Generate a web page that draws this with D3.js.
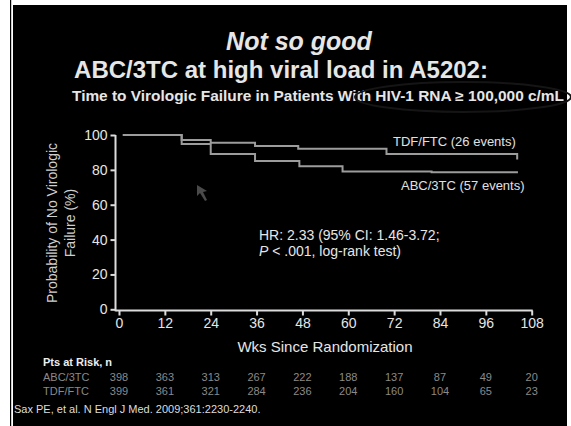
<!DOCTYPE html>
<html><head><meta charset="utf-8">
<script src="https://cdn.jsdelivr.net/npm/d3@7"></script>
<style>html,body{margin:0;padding:0;background:#fff;}svg{display:block;}</style>
</head><body>
<script>
// ---- data ----
const tdfWeeks = [1, 16.4, 24, 35.6, 46.9, 70, 104.2];
const tdfSurv  = [100, 97.1, 95.6, 93.7, 92.1, 89.1, 86.0];
const abcWeeks = [1, 16.4, 24, 35.6, 47.2, 58.5, 81.8, 104.4];
const abcSurv  = [100, 94.8, 89.1, 85.1, 82.1, 79.0, 78.6, 78.6];
const xTicks = [0, 12, 24, 36, 48, 60, 72, 84, 96, 108];
const yTicks = [0, 20, 40, 60, 80, 100];
const riskABC = [398, 363, 313, 267, 222, 188, 137, 87, 49, 20];
const riskTDF = [399, 361, 321, 284, 236, 204, 160, 104, 65, 23];
const seriesLabels = ["TDF/FTC (26 events)", "ABC/3TC (57 events)"];
const riskLabels = ["ABC/3TC", "TDF/FTC"];

const W = 571, H = 426;
const font = "'Liberation Sans', Arial, sans-serif";
const svg = d3.select("body").append("svg").attr("width", W).attr("height", H)
  .style("font-family", font);

// frame: white page with black slide
svg.append("rect").attr("width", W).attr("height", H).attr("fill", "#fff");
svg.append("rect").attr("x", 10).attr("y", 0).attr("width", 1.2).attr("height", H).attr("fill", "#000");
svg.append("rect").attr("x", 13).attr("y", 5).attr("width", 554).attr("height", H - 5).attr("fill", "#000");

// titles
svg.append("text").attr("x", 299).attr("y", 50).attr("text-anchor", "middle")
  .attr("fill", "#e6e6e6").style("font-size", "25px").style("font-weight", "bold").style("font-style", "italic")
  .text("Not so good");
svg.append("text").attr("x", 281).attr("y", 78).attr("text-anchor", "middle")
  .attr("fill", "#e6e6e6").style("font-size", "24px").style("font-weight", "bold")
  .text("ABC/3TC at high viral load in A5202:");
svg.append("text").attr("x", 72).attr("y", 101)
  .attr("textLength", 492).attr("lengthAdjust", "spacingAndGlyphs")
  .attr("fill", "#e6e6e6").style("font-size", "14.5px").style("font-weight", "bold")
  .text("Time to Virologic Failure in Patients With HIV-1 RNA \u2265 100,000 c/mL");
// faint annotation ellipse
svg.append("ellipse").attr("cx", 463).attr("cy", 97).attr("rx", 108).attr("ry", 15)
  .attr("fill", "none").attr("stroke", "#151515").attr("stroke-width", 2);

// scales
const x = d3.scaleLinear().domain([0, 108]).range([119, 531.7]);
const y = d3.scaleLinear().domain([0, 100]).range([309.3, 135]);

const axisColor = "#dcdcdc";
// y axis
const ya = svg.append("g").attr("transform", "translate(115.5,0)")
  .call(d3.axisLeft(y).tickValues(yTicks).tickSize(5).tickSizeOuter(0).tickPadding(3));
ya.select(".domain").attr("d", `M0,${y(100)}V${y(0) + 2}`);
ya.selectAll("path,line").attr("stroke", axisColor).attr("stroke-width", 2);
ya.selectAll("text").attr("fill", "#e6e6e6").style("font-size", "14px").style("font-family", font);

// x axis
const xa = svg.append("g").attr("transform", "translate(0,310.5)")
  .call(d3.axisBottom(x).tickValues(xTicks).tickSize(5).tickSizeOuter(0).tickPadding(3));
xa.select(".domain").attr("d", `M115.5,0H${x(108) + 1}`);
xa.selectAll("path,line").attr("stroke", axisColor).attr("stroke-width", 2);
xa.selectAll("text").attr("fill", "#e6e6e6").style("font-size", "14px").style("font-family", font);

// axis titles
const yt = svg.append("text").attr("transform", "translate(57,223) rotate(-90)")
  .attr("text-anchor", "middle").attr("fill", "#cfcfcf").style("font-size", "14px");
yt.append("tspan").attr("x", 0).attr("dy", 0).text("Probability of No Virologic");
yt.append("tspan").attr("x", 0).attr("dy", 18).text("Failure (%)");
svg.append("text").attr("x", 325).attr("y", 352).attr("text-anchor", "middle")
  .attr("fill", "#e6e6e6").style("font-size", "15px").text("Wks Since Randomization");

// KM curves
const line = d3.line().x(d => x(d[0])).y(d => y(d[1])).curve(d3.curveStepAfter);
const curves = [
  d3.zip(tdfWeeks, tdfSurv),
  d3.zip(abcWeeks, abcSurv)
];
svg.append("g").selectAll("path").data(curves).join("path")
  .attr("d", line).attr("fill", "none").attr("stroke", "#9c9c9c").attr("stroke-width", 2);

// curve labels
svg.append("text").attr("x", 393).attr("y", 146).attr("fill", "#e0e0e0").style("font-size", "13px")
  .text(seriesLabels[0]);
svg.append("text").attr("x", 401).attr("y", 189.5).attr("fill", "#e0e0e0").style("font-size", "13px")
  .text(seriesLabels[1]);

// HR annotation
svg.append("text").attr("x", 259).attr("y", 240).attr("fill", "#e6e6e6").style("font-size", "14px")
  .text("HR: 2.33 (95% CI: 1.46-3.72;");
const p = svg.append("text").attr("x", 259).attr("y", 256).attr("fill", "#e6e6e6").style("font-size", "14px");
p.append("tspan").style("font-style", "italic").text("P");
p.append("tspan").text(" < .001, log-rank test)");

// cursor arrow (decoration)
svg.append("path").attr("d", "M197,185 L197,196 L200,193 L205,201 L207,200 L203,192 L207,191 Z")
  .attr("fill", "#4a4a4a");

// patients at risk
svg.append("text").attr("x", 43).attr("y", 366).attr("fill", "#eeeeee")
  .style("font-size", "11px").style("font-weight", "bold").text("Pts at Risk, n");
const rows = [riskABC, riskTDF];
rows.forEach((r, i) => {
  const yy = 381 + i * 14;
  svg.append("text").attr("x", 43).attr("y", yy).attr("fill", "#8a8a8a").style("font-size", "11px").text(riskLabels[i]);
  svg.append("g").selectAll("text").data(r).join("text")
    .attr("x", (d, j) => x(xTicks[j])).attr("y", yy).attr("text-anchor", "middle")
    .attr("fill", "#8a8a8a").style("font-size", "11px").text(d => d);
});

// citation
svg.append("text").attr("x", 14).attr("y", 413).attr("fill", "#dddddd").style("font-size", "11px")
  .text("Sax PE, et al. N Engl J Med. 2009;361:2230-2240.");
</script>
</body></html>
